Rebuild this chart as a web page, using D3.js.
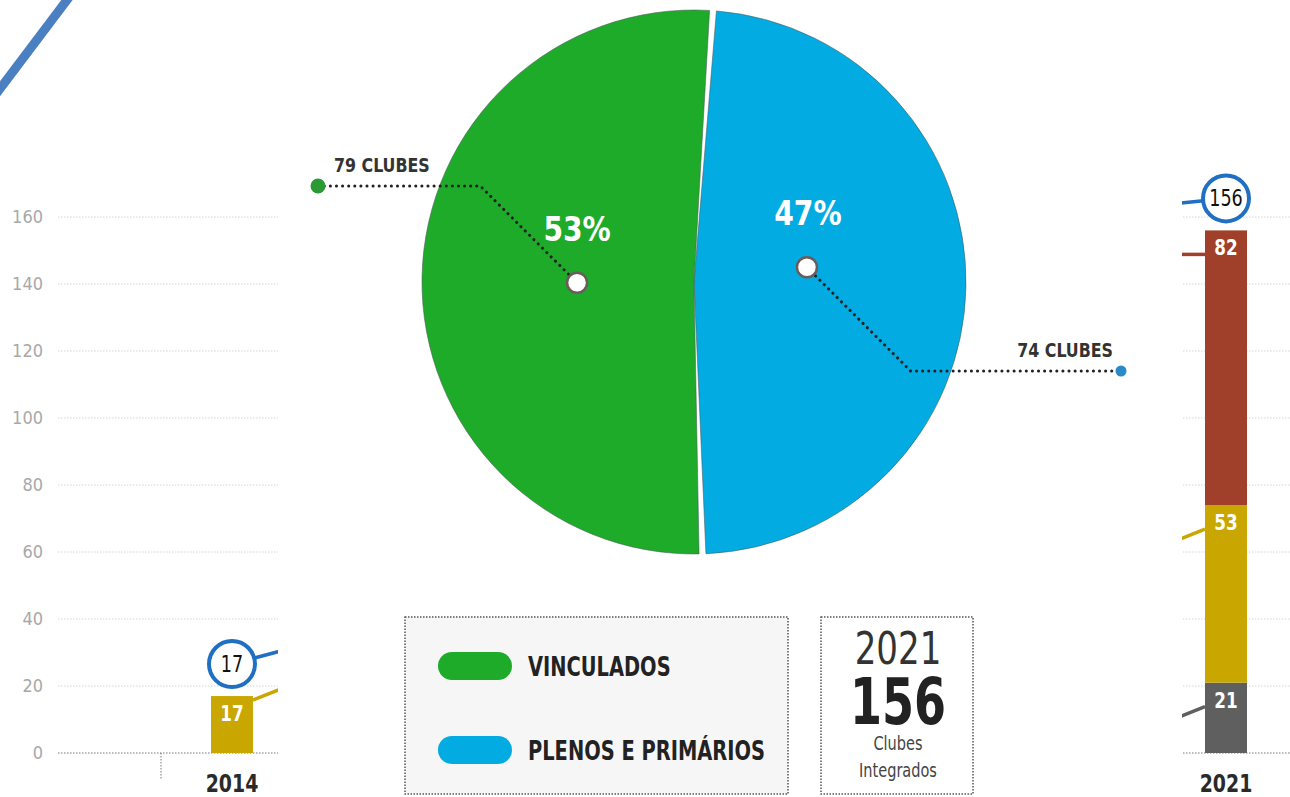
<!DOCTYPE html>
<html>
<head>
<meta charset="utf-8">
<script src="https://cdn.jsdelivr.net/npm/d3@7"></script>
<style>
  body { margin: 0; background: #fff; }
  svg { display: block; }
  text { font-family: "DejaVu Sans Condensed", "DejaVu Sans", sans-serif; }
</style>
</head>
<body>
<svg id="chart" width="1290" height="797"></svg>
<script>
// --- data ---
const years = [2014, 2015, 2016, 2017, 2018, 2019, 2020, 2021];
const shownYears = [2014, 2021];
const grayVals = [0, 21];     // bottom segment
const goldVals = [17, 53];    // middle segment
const redVals = [0, 82];      // top segment
const totals = [17, 156];
const yTicks = [0, 20, 40, 60, 80, 100, 120, 140, 160];

const pieNames = ["PLENOS E PRIMÁRIOS", "VINCULADOS"];
const pieClubs = [74, 79];
const piePct = ["47%", "53%"];
const pieColors = ["#03abe3", "#1eab29"];

const statYear = "2021";
const statTotal = "156";
const statLines = ["Clubes", "Integrados"];

const W = 1290, H = 797;
const svg = d3.select("#chart");

// squeeze text horizontally, the original uses a narrow DIN-like face
function condense(sel, k) {
    sel.each(function() {
        const len = this.getComputedTextLength();
        d3.select(this).attr("textLength", len * k).attr("lengthAdjust", "spacingAndGlyphs");
    });
    return sel;
}

// --- background bar chart (mostly covered by the popup) ---
const x = d3.scaleBand().domain(years).range([161, 161 + 8 * 142]);
const y = d3.scaleLinear().domain([0, 160]).range([753, 217]);
const barW = 42;

const grid = svg.append("g");
grid.selectAll("line").data(yTicks).join("line")
    .attr("x1", 58).attr("x2", W)
    .attr("y1", d => y(d)).attr("y2", d => y(d))
    .attr("stroke", d => d === 0 ? "#777" : "#d4d4d4")
    .attr("stroke-dasharray", "1.5,1.5");
grid.selectAll("text").data(yTicks).join("text")
    .attr("x", 43).attr("y", d => y(d) + 6)
    .attr("text-anchor", "end")
    .attr("font-size", 18).attr("fill", "#a8a8a8")
    .text(d => d);
// small tick between 2014 and 2015
svg.append("line")
    .attr("x1", x(2014)).attr("x2", x(2014))
    .attr("y1", y(0)).attr("y2", y(0) + 26)
    .attr("stroke", "#777").attr("stroke-dasharray", "1.5,1.5");

const segColors = { gray: "#5f5f5f", gold: "#c9a600", red: "#a0402a" };
const lineSlope = { gray: -12, gold: -12, red: 0 };

shownYears.forEach((yr, i) => {
    const cx = x(yr) + x.bandwidth() / 2;
    const dir = i === 0 ? 1 : -1;
    const g = svg.append("g");
    const segs = [
        { key: "gray", v: grayVals[i] },
        { key: "gold", v: goldVals[i] },
        { key: "red", v: redVals[i] }
    ];
    let base = 0;
    segs.forEach(s => {
        if (s.v <= 0) return;
        const top = y(base + s.v);
        g.append("rect")
            .attr("x", cx - barW / 2).attr("width", barW)
            .attr("y", top).attr("height", y(base) - top)
            .attr("fill", segColors[s.key]);
        // connector stub toward the hidden neighbour year
        const sx = cx + dir * barW / 2;
        const ly = top + (i === 0 ? 4 : 24);
        g.append("line")
            .attr("x1", sx).attr("y1", ly)
            .attr("x2", sx + dir * 30).attr("y2", ly + lineSlope[s.key] * dir)
            .attr("stroke", segColors[s.key]).attr("stroke-width", 3.5);
        condense(g.append("text")
            .attr("x", cx).attr("y", top + 25)
            .attr("text-anchor", "middle")
            .attr("font-size", 22).attr("font-weight", "bold").attr("fill", "#fff")
            .text(s.v), 0.85);
        base += s.v;
    });
    // total bubble
    const ty = y(totals[i]) - 32;
    g.append("line")
        .attr("x1", cx).attr("y1", ty)
        .attr("x2", cx + dir * 60).attr("y2", ty + (i === 0 ? -16 : 6))
        .attr("stroke", "#1f6fc2").attr("stroke-width", 3.5);
    g.append("circle")
        .attr("cx", cx).attr("cy", ty).attr("r", 23)
        .attr("fill", "#fff").attr("stroke", "#1f6fc2").attr("stroke-width", 4);
    condense(g.append("text")
        .attr("x", cx).attr("y", ty + 8)
        .attr("text-anchor", "middle")
        .attr("font-size", 23).attr("fill", "#111")
        .text(totals[i]), 0.85);
    condense(g.append("text")
        .attr("x", cx).attr("y", 792)
        .attr("text-anchor", "middle")
        .attr("font-size", 25).attr("font-weight", "bold").attr("fill", "#2a2a2a")
        .text(yr), 0.84);
});

// top-left decorative stroke
svg.append("line")
    .attr("x1", -4).attr("y1", 94).attr("x2", 70).attr("y2", -4)
    .attr("stroke", "#4a7fc1").attr("stroke-width", 9);

// --- popup overlay ---
svg.append("rect")
    .attr("x", 278).attr("y", 0).attr("width", 1182 - 278).attr("height", H)
    .attr("fill", "#fff");

// pie
const cx = 694, cy = 282, R = 272;
const start = 0.07;
const pie = d3.pie().sort(null).value(d => d)
    .startAngle(start).endAngle(start + Math.PI * 2)
    .padAngle(0.042);
const arcs = pie(pieClubs);
const arc = d3.arc().innerRadius(0).outerRadius(R).padRadius(R * 0.6);
const pieG = svg.append("g").attr("transform", `translate(${cx},${cy})`);
pieG.selectAll("path").data(arcs).join("path")
    .attr("d", arc)
    .attr("fill", (d, i) => pieColors[i])
    .attr("stroke", "#4a5a5a").attr("stroke-opacity", 0.55).attr("stroke-width", 1);

const inner = d3.arc().innerRadius(0).outerRadius(R * 0.86);
const leaderY = [371, 186];
const leaderEnd = [1121, 318];
arcs.forEach((a, i) => {
    const [px, py] = inner.centroid(a);
    const ax = cx + px + (i === 0 ? -4 : 0), ay = cy + py + (i === 0 ? -17 : 3);
    const dir = i === 0 ? 1 : -1;
    const elbowX = ax + dir * Math.abs(leaderY[i] - ay);
    svg.append("path")
        .attr("d", `M${ax},${ay}L${elbowX},${leaderY[i]}L${leaderEnd[i]},${leaderY[i]}`)
        .attr("fill", "none").attr("stroke", "#222").attr("stroke-width", 3)
        .attr("stroke-dasharray", "0.1,6").attr("stroke-linecap", "round");
    svg.append("circle")
        .attr("cx", ax).attr("cy", ay).attr("r", 10)
        .attr("fill", "#fff").attr("stroke", "#6b5b5b").attr("stroke-width", 2.5);
    svg.append("circle")
        .attr("cx", leaderEnd[i]).attr("cy", leaderY[i]).attr("r", i === 0 ? 5.5 : 7.5)
        .attr("fill", i === 0 ? "#2a8ac6" : "#2a9a35");
    condense(svg.append("text")
        .attr("x", ax + (i === 0 ? 1 : 0)).attr("y", ay - 42)
        .attr("text-anchor", "middle")
        .attr("font-size", 34).attr("font-weight", "bold").attr("fill", "#fff")
        .text(piePct[i]), 0.92);
    condense(svg.append("text")
        .attr("x", i === 0 ? leaderEnd[i] - 8 : leaderEnd[i] + 16)
        .attr("y", leaderY[i] - 14)
        .attr("text-anchor", i === 0 ? "end" : "start")
        .attr("font-size", 20).attr("font-weight", "bold").attr("fill", "#333")
        .text(pieClubs[i] + " CLUBES"), 0.88);
});

// legend box
const leg = svg.append("g");
leg.append("rect")
    .attr("x", 405).attr("y", 617).attr("width", 383).attr("height", 177)
    .attr("fill", "#f6f6f6").attr("stroke", "#555").attr("stroke-width", 1.5)
    .attr("stroke-dasharray", "1.5,1.5");
const legOrder = [1, 0];
legOrder.forEach((k, j) => {
    const ly = 666 + j * 84;
    leg.append("rect")
        .attr("x", 438).attr("y", ly - 14).attr("width", 74).attr("height", 28).attr("rx", 14)
        .attr("fill", pieColors[k]);
    condense(leg.append("text")
        .attr("x", 528).attr("y", ly + 10)
        .attr("font-size", 27).attr("font-weight", "bold").attr("fill", "#222")
        .text(pieNames[k]), 0.8);
});

// stat box
const st = svg.append("g");
st.append("rect")
    .attr("x", 821).attr("y", 617).attr("width", 152).attr("height", 177)
    .attr("fill", "#fff").attr("stroke", "#555").attr("stroke-width", 1.5)
    .attr("stroke-dasharray", "1.5,1.5");
condense(st.append("text").attr("x", 898).attr("y", 664).attr("text-anchor", "middle")
    .attr("font-size", 44).attr("fill", "#333").text(statYear), 0.86);
condense(st.append("text").attr("x", 898).attr("y", 724).attr("text-anchor", "middle")
    .attr("font-size", 64).attr("font-weight", "bold").attr("fill", "#222").text(statTotal), 0.8);
statLines.forEach((t, i) => {
    condense(st.append("text").attr("x", 898).attr("y", 750 + i * 27).attr("text-anchor", "middle")
        .attr("font-size", 19).attr("fill", "#444").text(t), 0.85);
});
</script>
</body>
</html>
